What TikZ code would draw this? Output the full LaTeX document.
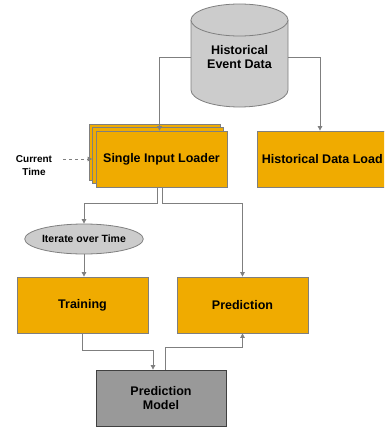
\documentclass[tikz,border=0pt]{standalone}
\usepackage{fontspec}
\setmainfont{Liberation Sans}
\usepackage{xcolor}
\usetikzlibrary{arrows.meta,positioning,shapes.geometric}

\definecolor{boxorange}{HTML}{F0AB00}
\definecolor{edgegray}{HTML}{7F7F7F}
\definecolor{dbgray}{HTML}{CCCCCC}
\definecolor{modelgray}{HTML}{999999}

\begin{document}
\begin{tikzpicture}[x=1pt,y=-1pt,
  box/.style={rectangle,draw=edgegray,fill=boxorange,line width=0.8pt,minimum width=131pt,minimum height=56pt,
    font=\bfseries\fontsize{12.5}{14}\selectfont,align=center},
  link/.style={draw=edgegray,line width=0.8pt,-{Triangle[length=4.5pt,width=4.5pt]}},
  dashlink/.style={link,dashed}]
\useasboundingbox (0,0) rectangle (384,428);
\clip (0,0) rectangle (384,428);
% database
\path[fill=dbgray] (191,20) -- (191,90) arc[start angle=180,end angle=360,x radius=48.5pt,y radius=17pt] -- (288,20) -- cycle;
\draw[edgegray,line width=0.8pt] (191,20) -- (191,90) arc[start angle=180,end angle=360,x radius=48.5pt,y radius=17pt] -- (288,20);
\draw[edgegray,fill=dbgray,line width=0.8pt] (239.5,20) ellipse[x radius=48.5pt,y radius=16pt];
\node[minimum width=97pt,inner sep=0pt,align=center,font=\bfseries\fontsize{12.5}{14}\selectfont] (hist) at (239.5,57) {Historical\\Event Data};
% loaders
\node[box] (back) at (154.5,152) {};
\node[box] (mid) at (158,155.5) {};
\node[box] (single) at (161.5,159) {Single Input Loader};
\node[box,minimum width=142pt] (histload) at (328,159) {};
\node[anchor=west,inner sep=0pt,font=\bfseries\fontsize{12.5}{14}\selectfont] at ([xshift=5pt]histload.west) {Historical Data Load};
\node[align=center,inner sep=0pt,font=\bfseries\fontsize{10}{13}\selectfont] (cur) at (34,165.5) {Current\\Time};
\coordinate (ctime) at (63,159);
% lower part
\node[ellipse,draw=edgegray,fill=dbgray,line width=0.8pt,minimum width=104pt,minimum height=30pt,inner sep=0pt,
  font=\bfseries\fontsize{10.5}{12}\selectfont] (iter) at (84,239) {Iterate over Time};
\node[box] (train) at (82.5,305) {Training};
\node[box] (pred) at (242.5,305) {Prediction};
\node[box,fill=modelgray,draw=black!75,minimum width=130pt] (model) at (161,398) {Prediction\\Model};
% connectors
\draw[link] (hist.west) -| ([xshift=-2pt]single.north);
\draw[link] (hist.east) -| ([xshift=-8pt]histload.north);
\draw[dashlink] (ctime) -- (ctime -| mid.west);
\draw[link] ([xshift=-4pt]single.south) -- ++(0,16) -| (iter.north);
\draw[link] ([xshift=1pt]single.south) -- ++(0,16) -| (pred.north);
\draw[link] (iter.south) -- (iter.south |- train.north);
\draw[link] (train.south) -- ++(0,17) -| ([xshift=-8pt]model.north);
\draw[link] ([xshift=4pt]model.north) -- ++(0,-22) -| (pred.south);
\end{tikzpicture}
\end{document}
